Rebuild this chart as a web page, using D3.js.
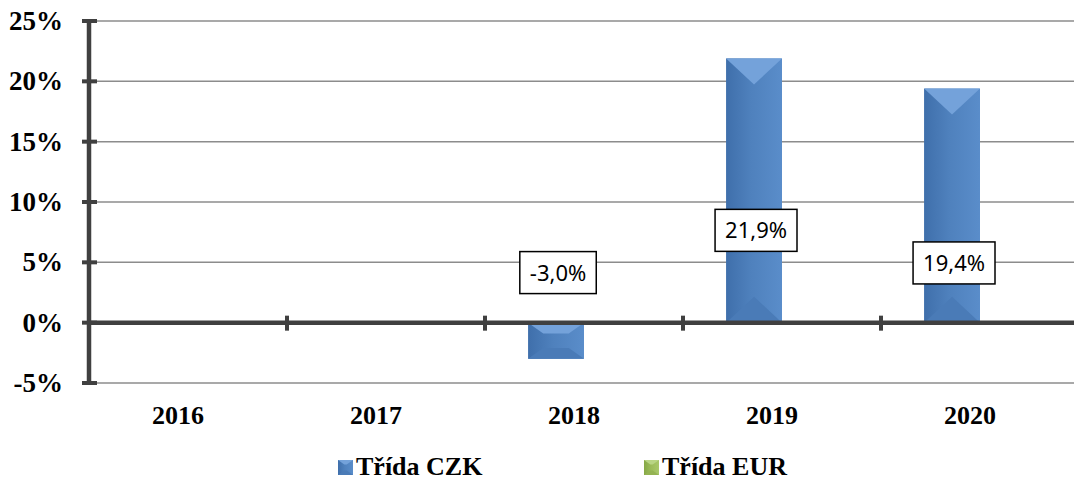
<!DOCTYPE html>
<html>
<head>
<meta charset="utf-8">
<script src="https://cdn.jsdelivr.net/npm/d3@7"></script>
<style>
  body { margin: 0; background: #fff; }
  svg { display: block; }
</style>
</head>
<body>
<script>
const WIDTH = 1074;
const HEIGHT = 481;

// data
const years = ['2016', '2017', '2018', '2019', '2020'];
const series = ['Třída CZK', 'Třída EUR'];
const czkValues = [null, null, -3.0, 21.9, 19.4];
const eurValues = [null, null, null, null, null];
const yTicks = [-5, 0, 5, 10, 15, 20, 25];
// where the value boxes sit (in % units on the y axis)
const labelAt = [null, null, 4.15, 7.65, 4.95];

const margin = {left: 89, right: -5, top: 21, bottom: 98};

const svg = d3.select('body')
  .append('svg')
  .attr('width', WIDTH)
  .attr('height', HEIGHT);

const defs = svg.append('defs');

function sideGradient(id, dark, mid, light) {
  const g = defs.append('linearGradient')
    .attr('id', id)
    .attr('x1', 0).attr('x2', 1).attr('y1', 0).attr('y2', 0);
  g.append('stop').attr('offset', '0%').attr('stop-color', dark);
  g.append('stop').attr('offset', '45%').attr('stop-color', mid);
  g.append('stop').attr('offset', '100%').attr('stop-color', light);
}
sideGradient('blueSide', '#3f6fab', '#4f81bd', '#5a8dca');
sideGradient('greenSide', '#86a846', '#9bbb59', '#a9c86a');

const x = d3.scaleBand()
  .domain(years)
  .range([margin.left, WIDTH - margin.right])
  .paddingInner(0)
  .paddingOuter(0);

const xInner = d3.scaleBand()
  .domain(series)
  .range([0, x.bandwidth()])
  .paddingInner(0)
  .paddingOuter(0.77);

const y = d3.scaleLinear()
  .domain([-5, 25])
  .range([HEIGHT - margin.bottom, margin.top]);

// grid lines
svg.append('g')
  .selectAll('line')
  .data(yTicks)
  .enter()
  .append('line')
  .attr('x1', margin.left)
  .attr('x2', WIDTH)
  .attr('y1', d => y(d))
  .attr('y2', d => y(d))
  .attr('stroke', '#8c8c8c')
  .attr('stroke-width', 1.5);

// bars with a bevel look
function drawBar(g, bx, top, bottom, w, side, topFill, botFill) {
  const h = bottom - top;
  if (h <= 0) return;
  const d = Math.min(26, h * 0.3);
  const inset = Math.min(w / 2, d * 1.4);
  g.append('rect')
    .attr('x', bx).attr('y', top)
    .attr('width', w).attr('height', h)
    .attr('fill', side);
  g.append('polygon')
    .attr('points', [[bx, top], [bx + w, top], [bx + w - inset, top + d], [bx + inset, top + d]].join(' '))
    .attr('fill', topFill);
  g.append('polygon')
    .attr('points', [[bx, bottom], [bx + w, bottom], [bx + w - inset, bottom - d], [bx + inset, bottom - d]].join(' '))
    .attr('fill', botFill);
}

const bars = svg.append('g');
czkValues.forEach((v, i) => {
  if (v === null) return;
  const bx = x(years[i]) + xInner(series[0]);
  const top = y(Math.max(0, v));
  const bottom = y(Math.min(0, v));
  drawBar(bars, bx, top, bottom, xInner.bandwidth(), 'url(#blueSide)', '#74a2da', '#4a7bb7');
});
eurValues.forEach((v, i) => {
  if (v === null) return;
  const bx = x(years[i]) + xInner(series[1]);
  drawBar(bars, bx, y(Math.max(0, v)), y(Math.min(0, v)), xInner.bandwidth(), 'url(#greenSide)', '#b9d585', '#94b352');
});

// axes
const axisColor = '#404040';
svg.append('line')
  .attr('x1', margin.left).attr('x2', margin.left)
  .attr('y1', y(25)).attr('y2', y(-5))
  .attr('stroke', axisColor).attr('stroke-width', 4.5);

svg.append('g')
  .selectAll('line')
  .data(yTicks)
  .enter()
  .append('line')
  .attr('x1', margin.left - 7)
  .attr('x2', margin.left + 8)
  .attr('y1', d => y(d))
  .attr('y2', d => y(d))
  .attr('stroke', axisColor)
  .attr('stroke-width', 4);

svg.append('line')
  .attr('x1', margin.left).attr('x2', WIDTH)
  .attr('y1', y(0)).attr('y2', y(0))
  .attr('stroke', axisColor).attr('stroke-width', 4.5);

svg.append('g')
  .selectAll('line')
  .data(years.slice(1))
  .enter()
  .append('line')
  .attr('x1', d => x(d))
  .attr('x2', d => x(d))
  .attr('y1', y(0) - 7)
  .attr('y2', y(0) + 8)
  .attr('stroke', axisColor)
  .attr('stroke-width', 4);

const serif = '"Liberation Serif", "Times New Roman", serif';

// y tick labels
svg.append('g')
  .selectAll('text')
  .data(yTicks)
  .enter()
  .append('text')
  .attr('x', 63)
  .attr('y', d => y(d) + 9)
  .attr('text-anchor', 'end')
  .attr('font-family', serif)
  .attr('font-weight', 'bold')
  .attr('font-size', 27)
  .attr('fill', '#000')
  .text(d => d + '%');

// x tick labels
svg.append('g')
  .selectAll('text')
  .data(years)
  .enter()
  .append('text')
  .attr('x', d => x(d) + x.bandwidth() / 2 - 10)
  .attr('y', 424)
  .attr('text-anchor', 'middle')
  .attr('font-family', serif)
  .attr('font-weight', 'bold')
  .attr('font-size', 26)
  .attr('fill', '#000')
  .text(d => d);

// value labels
const labels = svg.append('g');
czkValues.forEach((v, i) => {
  if (v === null) return;
  const cx = x(years[i]) + xInner(series[0]) + xInner.bandwidth() / 2 + 2;
  const cy = y(labelAt[i]);
  const txt = v.toFixed(1).replace('.', ',') + '%';
  const t = labels.append('text')
    .attr('x', cx)
    .attr('y', cy)
    .attr('dy', '0.36em')
    .attr('text-anchor', 'middle')
    .attr('font-family', '"Noto Sans", "Open Sans", sans-serif')
    .attr('font-size', 22)
    .attr('fill', '#000')
    .text(txt);
  const bb = t.node().getBBox();
  const w = bb.width + 20;
  labels.insert('rect', 'text')
    .attr('x', cx - w / 2)
    .attr('y', cy - 21)
    .attr('width', w)
    .attr('height', 42)
    .attr('fill', '#fff')
    .attr('stroke', '#000')
    .attr('stroke-width', 1.5);
});

// legend
const legendItems = [
  {name: series[0], x: 338, side: 'url(#blueSide)', top: '#74a2da', bot: '#4a7bb7'},
  {name: series[1], x: 644, side: 'url(#greenSide)', top: '#b9d585', bot: '#94b352'},
];
const legend = svg.append('g');
legendItems.forEach(item => {
  const g = legend.append('g');
  drawBar(g, item.x, 460, 475, 15, item.side, item.top, item.bot);
  g.append('text')
    .attr('x', item.x + 18)
    .attr('y', 475)
    .attr('font-family', serif)
    .attr('font-weight', 'bold')
    .attr('font-size', 26)
    .attr('fill', '#000')
    .text(item.name);
});
</script>
</body>
</html>
